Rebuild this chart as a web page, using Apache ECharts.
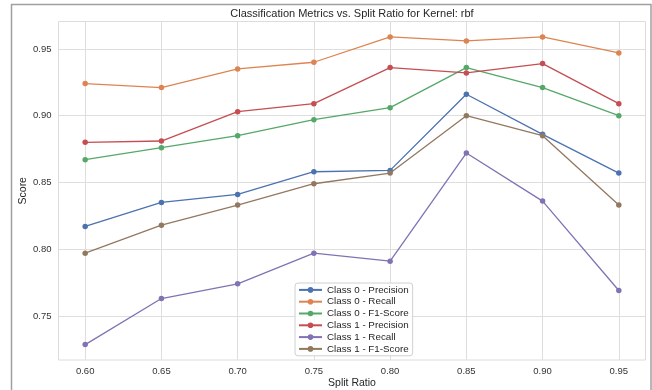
<!DOCTYPE html>
<html>
<head>
<meta charset="utf-8">
<script src="https://cdn.jsdelivr.net/npm/echarts@6/dist/echarts.min.js"></script>
<style>
html,body{margin:0;padding:0;background:#fff;}
#chart{width:652px;height:390px;}
</style>
</head>
<body>
<div id="chart"></div>
<script>
const splitRatios = [0.60, 0.65, 0.70, 0.75, 0.80, 0.85, 0.90, 0.95];
const class0Precision = [0.817, 0.835, 0.841, 0.858, 0.859, 0.916, 0.886, 0.857];
const class0Recall    = [0.924, 0.921, 0.935, 0.940, 0.959, 0.956, 0.959, 0.947];
const class0F1        = [0.867, 0.876, 0.885, 0.897, 0.906, 0.936, 0.921, 0.900];
const class1Precision = [0.880, 0.881, 0.903, 0.909, 0.936, 0.932, 0.939, 0.909];
const class1Recall    = [0.7285, 0.763, 0.774, 0.797, 0.791, 0.872, 0.836, 0.769];
const class1F1        = [0.797, 0.818, 0.833, 0.849, 0.857, 0.900, 0.885, 0.833];
const xTicks = [0.60, 0.65, 0.70, 0.75, 0.80, 0.85, 0.90, 0.95];
const yTicks = [0.75, 0.80, 0.85, 0.90, 0.95];

const seriesDefs = [
  {name: 'Class 0 - Precision', data: class0Precision, color: '#4C72B0'},
  {name: 'Class 0 - Recall', data: class0Recall, color: '#DD8452'},
  {name: 'Class 0 - F1-Score', data: class0F1, color: '#55A868'},
  {name: 'Class 1 - Precision', data: class1Precision, color: '#C44E52'},
  {name: 'Class 1 - Recall', data: class1Recall, color: '#8172B3'},
  {name: 'Class 1 - F1-Score', data: class1F1, color: '#937860'}
];

// matplotlib-like 5% margins
const allY = [].concat(...seriesDefs.map(s => s.data));
const yLo = Math.min(...allY), yHi = Math.max(...allY);
const xLo = Math.min(...splitRatios), xHi = Math.max(...splitRatios);
const yMin = yLo - 0.05 * (yHi - yLo), yMax = yHi + 0.05 * (yHi - yLo);
const xMin = xLo - 0.05 * (xHi - xLo), xMax = xHi + 0.05 * (xHi - xLo);

const FONT = '"Liberation Sans", Arial, sans-serif';
const chart = echarts.init(document.getElementById('chart'), null, {renderer: 'canvas'});
chart.setOption({
  animation: false,
  backgroundColor: '#ffffff',
  textStyle: {fontFamily: FONT},
  title: {
    text: 'Classification Metrics vs. Split Ratio for Kernel: rbf',
    left: 352, top: 8.5, textAlign: 'center', padding: 0,
    textStyle: {fontFamily: FONT, fontSize: 11, fontWeight: 'normal', color: '#262626'}
  },
  grid: {
    left: 58.5, right: 6.5, top: 21.5, bottom: 30,
    show: true, borderColor: '#dcdcdc', borderWidth: 1,
    containLabel: false, outerBoundsMode: 'none'
  },
  legend: {
    orient: 'vertical', left: 295, top: 283,
    padding: [1, 4, 1, 3], itemGap: 0,
    itemWidth: 23, itemHeight: 7,
    backgroundColor: 'rgba(255,255,255,0.85)',
    borderColor: '#d0d0d0', borderWidth: 1, borderRadius: 3,
    textStyle: {fontFamily: FONT, fontSize: 9.8, color: '#262626', lineHeight: 11.8},
    data: seriesDefs.map(s => s.name)
  },
  xAxis: {
    type: 'value', min: xMin, max: xMax,
    name: 'Split Ratio', nameLocation: 'middle', nameGap: 17.5, nameMoveOverlap: false,
    nameTextStyle: {fontFamily: FONT, fontSize: 10.5, color: '#262626'},
    axisLine: {show: false},
    axisTick: {show: false, customValues: xTicks},
    axisLabel: {customValues: xTicks, margin: 6, fontFamily: FONT, fontSize: 9.5, color: '#333',
      formatter: v => v.toFixed(2)},
    splitLine: {show: true, lineStyle: {color: '#dedede', width: 1}}
  },
  yAxis: {
    type: 'value', min: yMin, max: yMax,
    name: 'Score', nameLocation: 'middle', nameGap: 30, nameRotate: 90, nameMoveOverlap: false,
    nameTextStyle: {fontFamily: FONT, fontSize: 10.5, color: '#262626'},
    axisLine: {show: false},
    axisTick: {show: false, customValues: yTicks},
    axisLabel: {customValues: yTicks, margin: 7, fontFamily: FONT, fontSize: 9.5, color: '#333',
      formatter: v => v.toFixed(2)},
    splitLine: {show: true, lineStyle: {color: '#dedede', width: 1}}
  },
  graphic: [
    {type: 'polyline', silent: true, z: 100,
     shape: {points: [[11.5, 390], [11.5, 4.5], [651, 4.5], [651, 390]]},
     style: {stroke: '#a0a0a0', lineWidth: 1.5, fill: null}}
  ],
  series: seriesDefs.map(s => ({
    name: s.name, type: 'line',
    data: splitRatios.map((x, i) => [x, s.data[i]]),
    symbol: 'circle', symbolSize: 5.5, showSymbol: true,
    lineStyle: {color: s.color, width: 1.3},
    itemStyle: {color: s.color},
    emphasis: {disabled: true}
  }))
});
</script>
</body>
</html>
